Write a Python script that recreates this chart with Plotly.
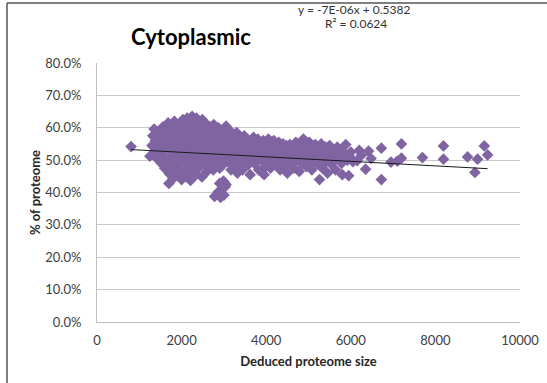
import plotly.graph_objects as go

# ---- data ----
x_vals = [
    806,
    1250, 1300, 1320, 1350, 1380, 1400, 1420, 1450, 1480, 1500, 1520, 1540, 1560, 1580, 1600, 1610, 1630, 1650,
    1680, 1700, 1710, 1720, 1740, 1750, 1770, 1790, 1800, 1810, 1830, 1850, 1860, 1880, 1900, 1920, 1930, 1950, 1960, 1980, 2000, 2000, 2010,
    2030, 2050, 2060, 2080, 2090, 2100, 2120, 2130, 2140, 2150, 2170, 2180, 2200, 2210, 2220, 2240, 2250, 2260, 2280, 2300, 2310, 2320, 2340, 2350, 2370, 2380, 2400, 2410, 2420, 2440, 2450, 2470, 2480, 2490, 2500, 2500,
    2520, 2540, 2550, 2570, 2580, 2600, 2610, 2630, 2650, 2660, 2680, 2700, 2710, 2730, 2750, 2760, 2780, 2800, 2810, 2830, 2850, 2870, 2880, 2900, 2920, 2940, 2960, 2980, 3000,
    2780, 2850, 2870, 2920, 2960, 3000, 3030, 3050, 2990, 2900,
    3030, 3050, 3070, 3090, 3100, 3120, 3150, 3170, 3180, 3200, 3220, 3240, 3260, 3280, 3300, 3320, 3330, 3350, 3370, 3390, 3400, 3420, 3440, 3460, 3480, 3500,
    3520, 3550, 3570, 3600, 3620, 3650, 3680, 3700, 3720, 3750, 3780, 3800, 3820, 3850, 3880, 3900, 3930, 3950, 3980, 4000, 4030, 4050, 4080, 4100, 4120, 4150, 4180,
    4220, 4250, 4280, 4300, 4330, 4350, 4380, 4400, 4430, 4450, 4480, 4500, 4530, 4560, 4600, 4620, 4650, 4680, 4700, 4720, 4750, 4780, 4800, 4830, 4860, 4880, 4900, 4930, 4950, 4980,
    5020, 5050, 5080, 5100, 5130, 5160, 5200, 5230, 5260, 5280, 5300, 5330, 5360, 5400, 5420, 5450, 5480, 5500, 5530, 5560, 5600, 5640, 5680, 5700, 5750, 5780, 5800, 5850, 5880, 5920, 5950, 6000, 6050,
    6150, 6200, 6250, 6350, 6420, 6480,
    6723, 6723, 7197, 7197, 6950, 7100, 7694, 8191, 8191, 8760, 8997, 8934, 9155, 9234,
    1360, 1440, 1470, 1560, 1620, 1660, 1700, 1760, 1780, 1840, 1890, 1910, 1970, 2040, 2070, 2110, 2160, 2190, 2230, 2270, 2290, 2330, 2360, 2390, 2430, 2460, 2510, 2560, 2590, 2620, 2640, 2690, 2720, 2740, 2790, 2820, 2860, 2890, 2930, 2970,
    3010, 3060, 3110, 3140, 3190, 3230, 3270, 3310, 3360, 3410, 3450, 3490, 3540, 3590, 3640, 3690, 3740, 3790, 3840, 3890, 3940, 3990, 4060, 4110, 4160, 4210, 4270, 4320, 4370, 4420, 4470, 4520, 4570, 4640, 4690, 4740, 4790, 4850, 4910, 4970,
    5060, 5120, 5180, 5240, 5320, 5380, 5440, 5520, 5580, 5660, 5730, 5820, 5900, 5980,
]
y_vals = [
    0.542,
    0.512, 0.545, 0.575, 0.596, 0.560, 0.530, 0.505, 0.588, 0.552, 0.520, 0.490, 0.570, 0.603, 0.540, 0.475, 0.510, 0.585, 0.560,
    0.615, 0.428, 0.458, 0.495, 0.530, 0.598, 0.572, 0.545, 0.443, 0.480, 0.620, 0.510, 0.590, 0.455, 0.535, 0.565, 0.498, 0.610, 0.470, 0.548, 0.440, 0.585, 0.520,
    0.625, 0.497, 0.555, 0.465, 0.600, 0.535, 0.448, 0.630, 0.513, 0.560, 0.482, 0.610, 0.540, 0.437, 0.600, 0.520, 0.635, 0.470, 0.556, 0.495, 0.615, 0.545, 0.455, 0.630, 0.525, 0.565, 0.505, 0.620, 0.478, 0.550, 0.600, 0.530, 0.448, 0.625, 0.510, 0.560,
    0.590, 0.487, 0.540, 0.612, 0.520, 0.465, 0.570, 0.500, 0.605, 0.545, 0.480, 0.585, 0.525, 0.560, 0.470, 0.610, 0.505, 0.540, 0.585, 0.490, 0.560, 0.600, 0.520, 0.475, 0.548, 0.590, 0.500, 0.565, 0.530,
    0.388, 0.395, 0.402, 0.385, 0.410, 0.392, 0.418, 0.425, 0.435, 0.428,
    0.575, 0.605, 0.545, 0.495, 0.560, 0.520, 0.590, 0.470, 0.540, 0.575, 0.505, 0.555, 0.480, 0.530, 0.585, 0.460, 0.545, 0.515, 0.570, 0.495, 0.540, 0.558, 0.470, 0.525, 0.575, 0.505,
    0.545, 0.563, 0.485, 0.530, 0.455, 0.552, 0.510, 0.570, 0.490, 0.540, 0.520, 0.565, 0.470, 0.548, 0.500, 0.530, 0.560, 0.455, 0.515, 0.545, 0.495, 0.565, 0.530, 0.475, 0.550, 0.510, 0.560,
    0.490, 0.540, 0.520, 0.555, 0.470, 0.535, 0.505, 0.550, 0.485, 0.525, 0.545, 0.460, 0.510, 0.548, 0.495, 0.530, 0.475, 0.515, 0.555, 0.500, 0.540, 0.465, 0.525, 0.550, 0.490, 0.565, 0.515, 0.545, 0.480, 0.530,
    0.555, 0.500, 0.470, 0.540, 0.515, 0.548, 0.490, 0.530, 0.440, 0.505, 0.550, 0.475, 0.520, 0.540, 0.495, 0.460, 0.515, 0.545, 0.488, 0.525, 0.505, 0.470, 0.540, 0.510, 0.530, 0.490, 0.455, 0.520, 0.548, 0.500, 0.452, 0.525, 0.495,
    0.498, 0.530, 0.515, 0.472, 0.528, 0.505,
    0.537, 0.440, 0.550, 0.506, 0.494, 0.497, 0.508, 0.544, 0.503, 0.510, 0.503, 0.462, 0.544, 0.516,
    0.527, 0.540, 0.500, 0.525, 0.548, 0.495, 0.555, 0.510, 0.465, 0.560, 0.520, 0.480, 0.505, 0.580, 0.530, 0.505, 0.590, 0.460, 0.575, 0.510, 0.595, 0.485, 0.540, 0.588, 0.525, 0.570, 0.535, 0.500, 0.555, 0.590, 0.520, 0.500, 0.545, 0.595, 0.530, 0.515, 0.575, 0.545, 0.510, 0.485,
    0.540, 0.520, 0.580, 0.500, 0.525, 0.545, 0.565, 0.505, 0.550, 0.520, 0.505, 0.545, 0.510, 0.540, 0.525, 0.500, 0.555, 0.530, 0.505, 0.520, 0.540, 0.480, 0.510, 0.540, 0.520, 0.505, 0.530, 0.490, 0.525, 0.505, 0.535, 0.490, 0.520, 0.500, 0.540, 0.525, 0.495, 0.505, 0.530, 0.500,
    0.525, 0.495, 0.510, 0.515, 0.525, 0.500, 0.530, 0.510, 0.495, 0.520, 0.510, 0.505, 0.515, 0.510,
]

trend_slope = -7e-06
trend_intercept = 0.5382
trend_x = [min(x_vals), max(x_vals)]

x_ticks = [0, 2000, 4000, 6000, 8000, 10000]
y_ticks = [0.0, 0.1, 0.2, 0.3, 0.4, 0.5, 0.6, 0.7, 0.8]

FONT = "Lato, 'Liberation Sans', sans-serif"

fig = go.Figure()
fig.add_trace(go.Scatter(
    x=x_vals, y=y_vals, mode="markers",
    marker=dict(symbol="diamond", size=9, color="#8064A2", line=dict(width=0)),
    showlegend=False, hoverinfo="skip",
))
fig.add_trace(go.Scatter(
    x=trend_x, y=[trend_slope * v + trend_intercept for v in trend_x],
    mode="lines", line=dict(color="#1a1a1a", width=1),
    showlegend=False, hoverinfo="skip",
))

L, R, T, B = 97, 27, 63, 61
W, H = 547, 383
pw, ph = W - L - R, H - T - B

def px_x(p):
    return (p - L) / pw

def px_y(p):
    return (H - B - p) / ph

fig.update_layout(
    width=W, height=H,
    margin=dict(l=L, r=R, t=T, b=B, autoexpand=False),
    paper_bgcolor="white", plot_bgcolor="white",
    font=dict(family=FONT, color="#333333", size=13),
    xaxis=dict(
        range=[0, 10000], tickvals=x_ticks, ticktext=[str(v) for v in x_ticks],
        showgrid=False, zeroline=False, showline=True, linecolor="#bfbfbf", linewidth=1,
        ticks="", ticklabelstandoff=6, tickfont=dict(size=13, color="#404040"), automargin=False,
        title=dict(text="<b>Deduced proteome size</b>", font=dict(size=13, color="#262626"), standoff=10),
    ),
    yaxis=dict(
        range=[0, 0.8], tickvals=y_ticks, ticktext=[f"{v*100:.1f}%" for v in y_ticks],
        showgrid=True, gridcolor="#c8c8c8", gridwidth=1, zeroline=False,
        showline=True, linecolor="#bfbfbf", linewidth=1, automargin=False,
        ticks="", ticklabelstandoff=12, tickfont=dict(size=13, color="#404040"),
        title=dict(text="<b>% of proteome</b>", font=dict(size=13, color="#262626"), standoff=1),
    ),
    annotations=[
        dict(text="<b>Cytoplasmic</b>", xref="paper", yref="paper", x=px_x(191), y=px_y(37),
             xanchor="center", yanchor="middle", showarrow=False,
             font=dict(size=22, color="#000000", family=FONT)),
        dict(text="y = -7E-06x + 0.5382", xref="paper", yref="paper",
             x=px_x(354), y=px_y(10), xanchor="center", yanchor="middle", showarrow=False,
             font=dict(size=12, color="#333333", family=FONT)),
        dict(text="R² = 0.0624", xref="paper", yref="paper",
             x=px_x(356), y=px_y(23.5), xanchor="center", yanchor="middle", showarrow=False,
             font=dict(size=12, color="#333333", family=FONT)),
    ],
    shapes=[
        dict(type="line", xref="paper", yref="paper", x0=px_x(7), x1=px_x(600), y0=px_y(3), y1=px_y(3),
             line=dict(color="#555555", width=1.5)),
        dict(type="line", xref="paper", yref="paper", x0=px_x(7), x1=px_x(7), y0=px_y(3), y1=px_y(420),
             line=dict(color="#555555", width=1.5)),
    ],
)

fig.write_html("out.html", config={"displayModeBar": False},
               post_script="document.body.style.margin='0';document.body.style.overflow='hidden';")
